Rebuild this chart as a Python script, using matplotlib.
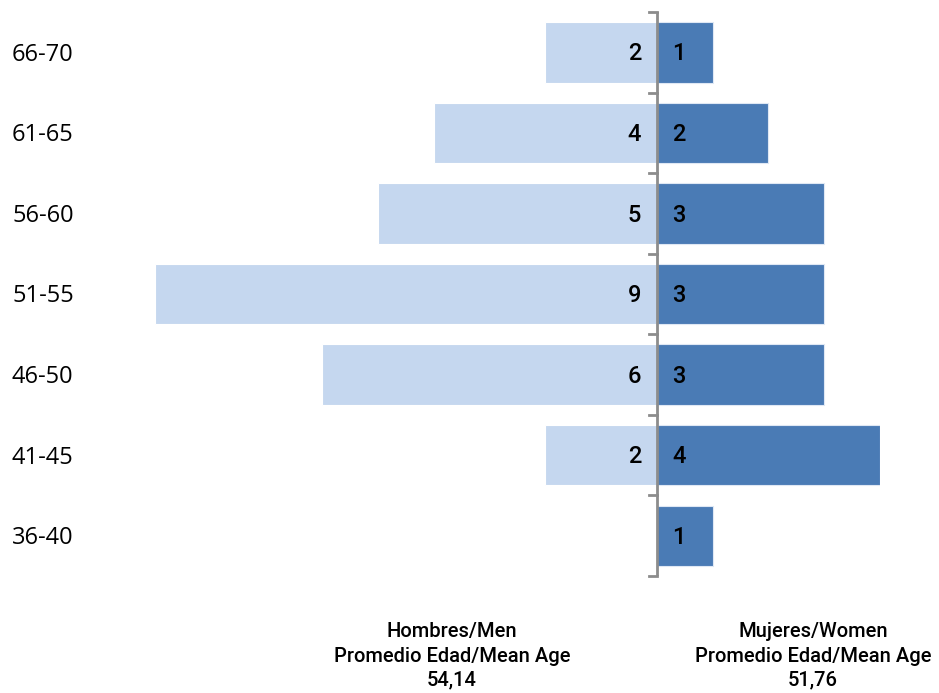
import matplotlib.pyplot as plt
from matplotlib.transforms import blended_transform_factory

grupos = ["36-40", "41-45", "46-50", "51-55", "56-60", "61-65", "66-70"]
hombres = [0, 2, 6, 9, 5, 4, 2]
mujeres = [1, 4, 3, 3, 3, 2, 1]
media_hombres = "54,14"
media_mujeres = "51,76"

c_hombres = "#c5d7ef"
c_mujeres = "#4a7bb5"

fig = plt.figure(figsize=(9.39, 6.93), dpi=100)
ax = fig.add_axes([155 / 939, 1 - 576 / 693, 725 / 939, 564 / 693])

y = list(range(len(grupos)))
ax.barh(y, [-h for h in hombres], height=0.75, color=c_hombres, edgecolor="white", linewidth=0.8)
ax.barh(y, mujeres, height=0.75, color=c_mujeres, edgecolor="#dfe8f4", linewidth=0.8)

ax.set_xlim(-9, 4)
ax.set_ylim(-0.5, len(grupos) - 0.5)

# eje central con marcas entre grupos
ax.axvline(0, color="#8c8c8c", linewidth=2, zorder=3)
for b in [i - 0.5 for i in range(len(grupos) + 1)]:
    ax.plot([-0.15, 0], [b, b], color="#8c8c8c", linewidth=2, zorder=3, clip_on=False)

for s in ax.spines.values():
    s.set_visible(False)
ax.set_xticks([])
ax.set_yticks([])

num_font = dict(family="Roboto", fontsize=17, fontweight="medium", color="black")
for i, (h, m) in enumerate(zip(hombres, mujeres)):
    if h:
        ax.text(-0.28, i - 0.02, str(h), ha="right", va="center", **num_font)
    if m:
        ax.text(0.28, i - 0.02, str(m), ha="left", va="center", **num_font)

lab_tr = blended_transform_factory(fig.transFigure, ax.transData)
for i, g in enumerate(grupos):
    ax.text(12 / 939, i - 0.03, g, transform=lab_tr,
            ha="left", va="center", family="Open Sans", fontsize=17)

foot = dict(family="Roboto", fontsize=14.5, fontweight="medium", ha="center", va="center", linespacing=1.35)
fig.text(452 / 939, 1 - 656 / 693, "Hombres/Men\nPromedio Edad/Mean Age\n" + media_hombres, **foot)
fig.text(813 / 939, 1 - 656 / 693, "Mujeres/Women\nPromedio Edad/Mean Age\n" + media_mujeres, **foot)

fig.savefig("out.png", dpi=100)
